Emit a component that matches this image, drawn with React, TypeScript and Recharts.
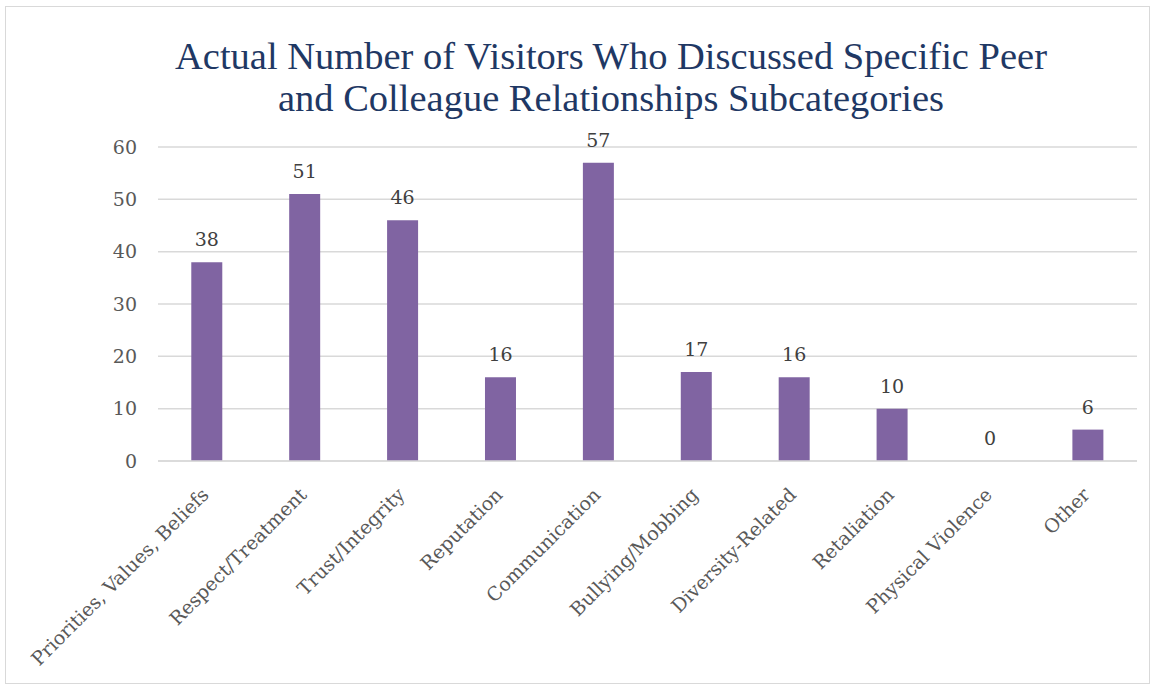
import { BarChart, Bar, XAxis, YAxis, CartesianGrid, LabelList } from 'recharts';

const categories = [
  'Priorities, Values, Beliefs',
  'Respect/Treatment',
  'Trust/Integrity',
  'Reputation',
  'Communication',
  'Bullying/Mobbing',
  'Diversity-Related',
  'Retaliation',
  'Physical Violence',
  'Other',
];
const visitors = [38, 51, 46, 16, 57, 17, 16, 10, 0, 6];
const yTicks = [0, 10, 20, 30, 40, 50, 60];

const data = categories.map((name, i) => ({ name, value: visitors[i] }));

const TITLE_FONT = '"Liberation Serif", "DejaVu Serif", serif';
const FONT = '"DejaVu Serif", "Liberation Serif", serif';

function RotatedTick(props: any) {
  const { x, y, payload } = props;
  return (
    <g transform={`translate(${x + 3},${y + 27})`}>
      <text transform="rotate(-45)" textAnchor="end" fill="#595959" fontSize={19} fontFamily={FONT}>
        {payload.value}
      </text>
    </g>
  );
}

export default function App() {
  return (
    <div style={{ position: 'absolute', left: 0, top: 0, width: 1156, height: 689, background: '#fff' }}>
      <div
        style={{
          position: 'absolute',
          left: 5,
          top: 6,
          width: 1143,
          height: 676,
          border: '1px solid #d9d9d9',
        }}
      />
      <div
        style={{
          position: 'absolute',
          left: 0,
          top: 35,
          width: 1222,
          textAlign: 'center',
          fontFamily: TITLE_FONT,
          fontSize: 38.5,
          lineHeight: '42px',
          color: '#1f3864',
        }}
      >
        Actual Number of Visitors Who Discussed Specific Peer
        <br />
        and Colleague Relationships Subcategories
      </div>
      <div style={{ position: 'absolute', left: 0, top: 0 }}>
        <BarChart
          width={1156}
          height={689}
          data={data}
          margin={{ top: 147, right: 19, bottom: 0, left: 0 }}
          barCategoryGap="34%"
        >
          <CartesianGrid vertical={false} stroke="#d9d9d9" strokeWidth={1.5} />
          <XAxis
            dataKey="name"
            interval={0}
            height={228}
            tickLine={false}
            axisLine={{ stroke: '#d9d9d9', strokeWidth: 1.5 }}
            tick={<RotatedTick />}
          />
          <YAxis
            domain={[0, 60]}
            ticks={yTicks}
            width={158}
            axisLine={false}
            tickLine={false}
            tickMargin={15}
            tick={{ fill: '#595959', fontSize: 19, fontFamily: FONT }}
          />
          <Bar dataKey="value" fill="#8064a2" minPointSize={0.01} isAnimationActive={false}>
            <LabelList
              dataKey="value"
              position="top"
              offset={16}
              fill="#404040"
              fontSize={19}
              fontFamily={FONT}
            />
          </Bar>
        </BarChart>
      </div>
    </div>
  );
}
